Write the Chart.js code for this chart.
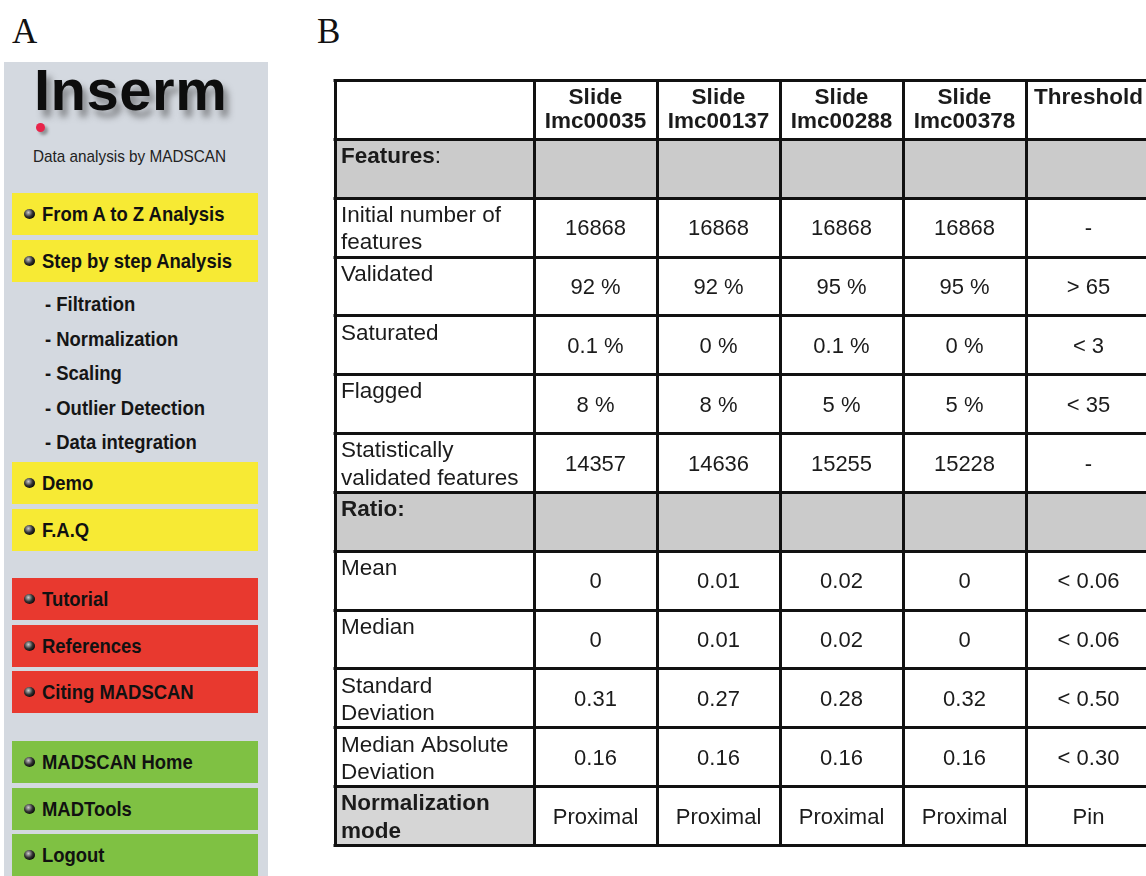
<!DOCTYPE html>
<html>
<head>
<meta charset="utf-8">
<script src="https://cdn.jsdelivr.net/npm/chart.js@4"></script>
<style>
  html, body { margin: 0; padding: 0; background: #fff; width: 1146px; height: 876px; overflow: hidden; position: relative; font-family: 'Liberation Sans', Arial, sans-serif; }
  .plabel { position: absolute; font-family: 'Liberation Serif', 'Times New Roman', serif; font-size: 35px; color: #111; line-height: 1; }
  #side { position: absolute; left: 4px; top: 62px; width: 264px; height: 830px; background: #d4d9e0; }
  .logo { position: absolute; left: 30px; top: -6px; font-size: 58px; font-weight: bold; color: #0d0d0d; text-shadow: 5px 7px 6px rgba(60,60,60,0.5); letter-spacing: 0.5px; }
  .dot { position: absolute; left: 32px; top: 61px; width: 9px; height: 9px; border-radius: 50%; background: #e8244a; box-shadow: 3px 3px 3px rgba(80,80,80,0.5); }
  .tag { position: absolute; left: 29px; top: 85px; font-size: 17px; color: #222; transform: scaleX(0.9); transform-origin: left center; }
  .btn { position: absolute; left: 8px; width: 246px; height: 42px; line-height: 42px; font-size: 20.5px; font-weight: bold; color: #111; padding-left: 30px; box-sizing: border-box; }
  .btn span, .sub span { display: inline-block; transform: scaleX(0.9); transform-origin: left center; white-space: nowrap; }
  .btn::before { content: ''; position: absolute; left: 12px; top: 16px; width: 11px; height: 10px; border-radius: 50%; background: radial-gradient(circle at 40% 35%, #ccc 0%, #333 45%, #000 80%); }
  .yellow { background: #f7ea34; }
  .red { background: #e8392f; }
  .green { background: #7fc143; }
  .sub { position: absolute; left: 41px; font-size: 20.5px; font-weight: bold; color: #151515; height: 24px; line-height: 24px; }
  #tbl { position: absolute; left: 333px; top: 78px; }
</style>
</head>
<body>
<div class="plabel" style="left:12px; top:14px;">A</div>
<div class="plabel" style="left:317px; top:14px;">B</div>

<div id="side">
  <div class="logo">Inserm</div>
  <div class="dot"></div>
  <div class="tag">Data analysis by MADSCAN</div>
</div>

<canvas id="tbl" width="820" height="769"></canvas>

<script>
// ---- panel A menu ----
const menuItems = [
  ['From A to Z Analysis', 'yellow', 131],
  ['Step by step Analysis', 'yellow', 178],
  ['Demo', 'yellow', 400],
  ['F.A.Q', 'yellow', 447],
  ['Tutorial', 'red', 516],
  ['References', 'red', 563],
  ['Citing MADSCAN', 'red', 609],
  ['MADSCAN Home', 'green', 679],
  ['MADTools', 'green', 726],
  ['Logout', 'green', 772]
];
const subItems = ['- Filtration', '- Normalization', '- Scaling', '- Outlier Detection', '- Data integration'];
const subTops = [230, 265, 299, 334, 368];

const side = document.getElementById('side');
menuItems.forEach(([txt, cls, top]) => {
  const d = document.createElement('div');
  d.className = 'btn ' + cls;
  d.style.top = top + 'px';
  const s = document.createElement('span');
  s.textContent = txt;
  d.appendChild(s);
  side.appendChild(d);
});
subItems.forEach((txt, i) => {
  const d = document.createElement('div');
  d.className = 'sub';
  d.style.top = subTops[i] + 'px';
  const s = document.createElement('span');
  s.textContent = txt;
  d.appendChild(s);
  side.appendChild(d);
});

// ---- panel B table data ----
const headers = [['', ''], ['Slide', 'Imc00035'], ['Slide', 'Imc00137'], ['Slide', 'Imc00288'], ['Slide', 'Imc00378'], ['Threshold', '']];
const rowLabels = [
  'Features:', 'Initial number of\nfeatures', 'Validated', 'Saturated', 'Flagged',
  'Statistically\nvalidated features', 'Ratio:', 'Mean', 'Median',
  'Standard\nDeviation', 'Median Absolute\nDeviation', 'Normalization\nmode'
];
const imc00035 = ['', '16868', '92 %', '0.1 %', '8 %', '14357', '', '0', '0', '0.31', '0.16', 'Proximal'];
const imc00137 = ['', '16868', '92 %', '0 %', '8 %', '14636', '', '0.01', '0.01', '0.27', '0.16', 'Proximal'];
const imc00288 = ['', '16868', '95 %', '0.1 %', '5 %', '15255', '', '0.02', '0.02', '0.28', '0.16', 'Proximal'];
const imc00378 = ['', '16868', '95 %', '0 %', '5 %', '15228', '', '0', '0', '0.32', '0.16', 'Proximal'];
const threshold = ['', '-', '> 65', '< 3', '< 35', '-', '', '< 0.06', '< 0.06', '< 0.50', '< 0.30', 'Pin'];
const sectionRows = ['Features:', 'Ratio:'];
const greyLabelRows = ['Normalization\nmode'];

// column widths (layout only)
const colW = [199, 123, 123, 123, 123, 125];
const colEdges = colW.reduce((a, w) => { a.push(a[a.length - 1] + w); return a; }, [0]);
const totalW = colEdges[colEdges.length - 1];

const yLabels = ['header'].concat(rowLabels);
const valueCols = [imc00035, imc00137, imc00288, imc00378, threshold];

// floating bars for shaded cells
const sectionBars = yLabels.map(l => sectionRows.includes(l) ? [0, totalW] : null);
const labelBars = yLabels.map(l => greyLabelRows.includes(l) ? [0, colW[0]] : null);

const FONT = "'Liberation Sans', Arial, sans-serif";
const LABEL_PX = 22.5, VALUE_PX = 22, HEAD_PX = 22.5;

const tablePlugin = {
  id: 'tableGrid',
  afterDatasetsDraw(chart) {
    const ctx = chart.ctx;
    const xs = chart.scales.x, ys = chart.scales.y;
    const band = ys.getPixelForValue(1) - ys.getPixelForValue(0);
    const rowTop = i => ys.getPixelForValue(i) - band / 2;
    const left = xs.getPixelForValue(0), right = xs.getPixelForValue(totalW);
    const top = rowTop(0), bottom = rowTop(yLabels.length);
    ctx.save();
    ctx.fillStyle = '#1b1b1b';
    ctx.textBaseline = 'middle';

    // header row
    headers.forEach((h, c) => {
      const cx = (xs.getPixelForValue(colEdges[c]) + xs.getPixelForValue(colEdges[c + 1])) / 2;
      ctx.font = 'bold ' + HEAD_PX + 'px ' + FONT;
      ctx.textAlign = 'center';
      ctx.fillText(h[0], cx, top + 18);
      if (h[1]) ctx.fillText(h[1], cx, top + 42);
    });

    // body rows
    rowLabels.forEach((lab, r) => {
      const y0 = rowTop(r + 1);
      const x0 = xs.getPixelForValue(0) + 6;
      const lines = lab.split('\n');
      ctx.textAlign = 'left';
      lines.forEach((ln, k) => {
        const ly = y0 + 18 + k * 27.5;
        if (ln === 'Features:') {
          ctx.font = 'bold ' + LABEL_PX + 'px ' + FONT;
          ctx.fillText('Features', x0, ly);
          const w = ctx.measureText('Features').width;
          ctx.font = LABEL_PX + 'px ' + FONT;
          ctx.fillText(':', x0 + w, ly);
        } else {
          const bold = sectionRows.includes(lab) || greyLabelRows.includes(lab);
          ctx.font = (bold ? 'bold ' : '') + LABEL_PX + 'px ' + FONT;
          ctx.fillText(ln, x0, ly);
        }
      });
      ctx.font = VALUE_PX + 'px ' + FONT;
      ctx.textAlign = 'center';
      valueCols.forEach((col, c) => {
        const cx = (xs.getPixelForValue(colEdges[c + 1]) + xs.getPixelForValue(colEdges[c + 2])) / 2;
        ctx.fillText(col[r], cx, ys.getPixelForValue(r + 1) + 2);
      });
    });

    // grid lines
    ctx.strokeStyle = '#111';
    ctx.lineWidth = 3;
    ctx.beginPath();
    for (let i = 0; i <= yLabels.length; i++) {
      const y = Math.round(rowTop(i)) + 0.5;
      ctx.moveTo(left - 1.5, y); ctx.lineTo(right + 1.5, y);
    }
    colEdges.forEach(e => {
      const x = Math.round(xs.getPixelForValue(e)) + 0.5;
      ctx.moveTo(x, top); ctx.lineTo(x, bottom);
    });
    ctx.stroke();
    ctx.restore();
  }
};

new Chart(document.getElementById('tbl'), {
  type: 'bar',
  data: {
    labels: yLabels,
    datasets: [
      { data: sectionBars, backgroundColor: '#cbcbcb', borderWidth: 0, barPercentage: 1, categoryPercentage: 1, grouped: false },
      { data: labelBars, backgroundColor: '#d6d6d6', borderWidth: 0, barPercentage: 1, categoryPercentage: 1, grouped: false }
    ]
  },
  options: {
    indexAxis: 'y',
    responsive: false,
    animation: false,
    devicePixelRatio: 1,
    layout: { padding: 2 },
    plugins: { legend: { display: false }, tooltip: { enabled: false } },
    scales: {
      x: { type: 'linear', min: 0, max: totalW, display: false },
      y: { type: 'category', display: false, offset: true }
    }
  },
  plugins: [tablePlugin]
});
</script>
</body>
</html>
